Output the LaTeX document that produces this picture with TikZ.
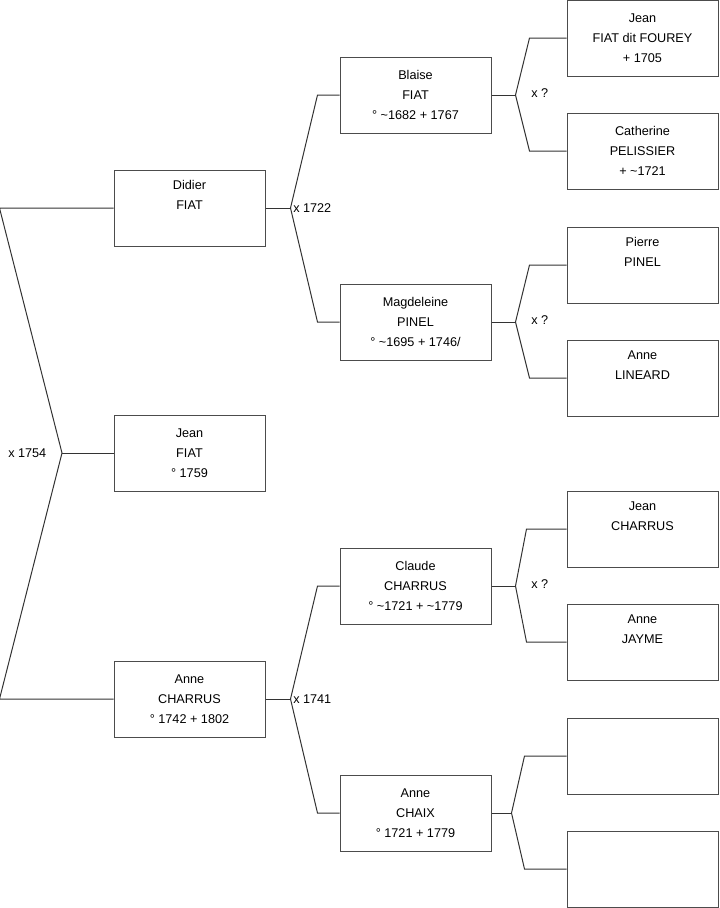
\documentclass[tikz,border=0pt]{standalone}
\usepackage{fontspec}
\setmainfont{Liberation Sans}
\usetikzlibrary{calc}

\begin{document}
\begin{tikzpicture}[
    x=0.75pt, y=-0.75pt,
    person/.style={
      rectangle, draw=black!70, line width=0.75pt,
      minimum width=113.25pt, minimum height=57pt, inner sep=0pt,
      align=center, font=\fontsize{9.5}{15}\selectfont
    },
    link/.style={draw=black!80, line width=0.75pt},
    lbl/.style={inner sep=0pt, anchor=west, font=\fontsize{9.5}{11}\selectfont}
  ]

  \useasboundingbox (0,0) rectangle (719,908);

  % Generation 1: child and parents
  \node[person] (jean)   at (189.5,453) {Jean\\FIAT\\° 1759};
  \node[person] (didier) at (189.5,208) {Didier\\FIAT\\\strut};
  \node[person] (anne)   at (189.5,699) {Anne\\CHARRUS\\° 1742 + 1802};

  % Generation 2: grandparents
  \node[person] (blaise) at (415.5,95)  {Blaise\\FIAT\\° \textasciitilde1682 + 1767};
  \node[person] (magd)   at (415.5,322) {Magdeleine\\PINEL\\° \textasciitilde1695 + 1746/};
  \node[person] (claude) at (415.5,586) {Claude\\CHARRUS\\° \textasciitilde1721 + \textasciitilde1779};
  \node[person] (chaix)  at (415.5,813) {Anne\\CHAIX\\° 1721 + 1779};

  % Generation 3: great-grandparents
  \node[person] (jeanff)  at (642.5,38)  {Jean\\FIAT dit FOUREY\\+ 1705};
  \node[person] (cath)    at (642.5,151) {Catherine\\PELISSIER\\+ \textasciitilde1721};
  \node[person] (pierre)  at (642.5,265) {Pierre\\PINEL\\\strut};
  \node[person] (lineard) at (642.5,378) {Anne\\LINEARD\\\strut};
  \node[person] (jeanch)  at (642.5,529) {Jean\\CHARRUS\\\strut};
  \node[person] (jayme)   at (642.5,642) {Anne\\JAYME\\\strut};
  \node[person] (empty1)  at (642.5,756) {};
  \node[person] (empty2)  at (642.5,869) {};

  % Fork for Jean
  \coordinate (f0) at (62,453);
  \draw[link] (didier.west) -- ++(-114,0) -- (f0)
              -- ($(anne.west)+(-114,0)$) -- (anne.west);
  \draw[link] (f0) -- (jean.west);
  \node[lbl] (m0) at (8,453) {x 1754};

  % Forks for Didier and Anne
  \draw[link] (didier.east) -- ++(25,0) coordinate (f1);
  \draw[link] (blaise.west) -- ++(-22,0) -- (f1)
              -- ($(magd.west)+(-22,0)$) -- (magd.west);
  \node[lbl] (m1) at (293,208) {x 1722};

  \draw[link] (anne.east) -- ++(25,0) coordinate (f2);
  \draw[link] (claude.west) -- ++(-22,0) -- (f2)
              -- ($(chaix.west)+(-22,0)$) -- (chaix.west);
  \node[lbl] (m2) at (293,699) {x 1741};

  % Forks for the grandparents
  \draw[link] (blaise.east) -- ++(24,0) coordinate (f3);
  \draw[link] (jeanff.west) -- ++(-37,0) -- (f3)
              -- ($(cath.west)+(-37,0)$) -- (cath.west);
  \node[lbl] (m3) at (531,93) {x ?};

  \draw[link] (magd.east) -- ++(24,0) coordinate (f4);
  \draw[link] (pierre.west) -- ++(-37,0) -- (f4)
              -- ($(lineard.west)+(-37,0)$) -- (lineard.west);
  \node[lbl] (m4) at (531,320) {x ?};

  \draw[link] (claude.east) -- ++(24,0) coordinate (f5);
  \draw[link] (jeanch.west) -- ++(-40,0) -- (f5)
              -- ($(jayme.west)+(-40,0)$) -- (jayme.west);
  \node[lbl] (m5) at (531,584) {x ?};

  \draw[link] (chaix.east) -- ++(20,0) coordinate (f6);
  \draw[link] (empty1.west) -- ++(-42,0) -- (f6)
              -- ($(empty2.west)+(-42,0)$) -- (empty2.west);

\end{tikzpicture}
\end{document}
